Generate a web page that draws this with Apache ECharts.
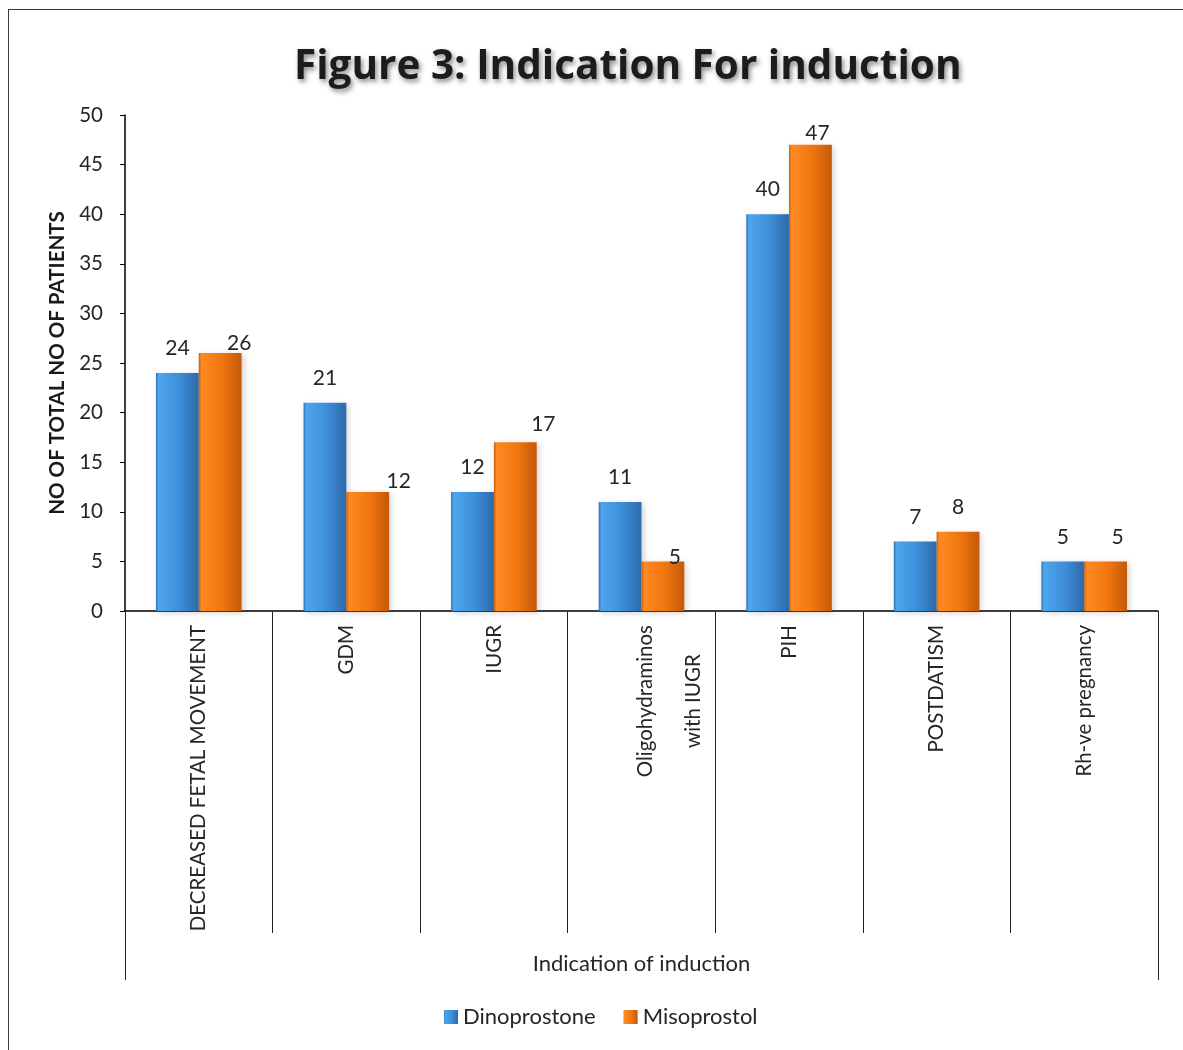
<!DOCTYPE html>
<html>
<head>
<meta charset="utf-8">
<title>Indication For induction</title>
<script src="https://cdn.jsdelivr.net/npm/echarts@6/dist/echarts.min.js"></script>
<style>
  html, body { margin: 0; padding: 0; background: #fff; }
  #frame { position: absolute; left: 8px; top: 9px; width: 1300px; height: 1200px;
           border-left: 1.5px solid #3a3a3a; border-top: 1.5px solid #3a3a3a; }
  #chart { position: absolute; left: 0; top: 0; width: 1183px; height: 1050px; }
</style>
</head>
<body>
<div id="frame"></div>
<div id="chart"></div>
<script>
// Indications for induction of labour, patients per agent
const categories = [
  'DECREASED FETAL MOVEMENT',
  'GDM',
  'IUGR',
  'Oligohydraminos\nwith IUGR',
  'PIH',
  'POSTDATISM',
  'Rh-ve pregnancy'
];
const dinoprostone = [24, 21, 12, 11, 40, 7, 5];
const misoprostol = [26, 12, 17, 5, 47, 8, 5];
const yTicks = { min: 0, max: 50, interval: 5 };

const FONT = 'Lato, "Open Sans", sans-serif';
const TITLE_FONT = '"Open Sans", Lato, sans-serif';
const TEXT = '#262626';

// hand-placed value label nudges for the second series [dx, dy]
const misoLabelShift = [[19, 15], [31, 14], [28, 6], [12, 20], [7, 13], [0, 0], [12, 0]];

function barFill(light, mid, dark) {
  return new echarts.graphic.LinearGradient(0, 0, 1, 0, [
    { offset: 0, color: dark },
    { offset: 0.06, color: light },
    { offset: 0.55, color: mid },
    { offset: 0.94, color: dark },
    { offset: 1, color: dark }
  ]);
}
const blueFill = barFill('#4da6ee', '#3d8ed8', '#2f6fb0');
const orangeFill = barFill('#ff8a24', '#f0760f', '#c95c0a');

const valueLabel = {
  show: true, position: 'top', distance: 14,
  fontFamily: FONT, fontSize: 21, color: TEXT
};

const chart = echarts.init(document.getElementById('chart'), null, { renderer: 'canvas' });
chart.setOption({
  backgroundColor: 'transparent',
  animation: false,
  title: {
    text: 'Figure 3: Indication For induction',
    left: 289, top: 42,
    textStyle: {
      fontFamily: TITLE_FONT, fontWeight: 'bold', fontSize: 40.5, color: '#1c1c1c',
      textShadowColor: 'rgba(0,0,0,0.45)', textShadowBlur: 5,
      textShadowOffsetX: 2, textShadowOffsetY: 3
    }
  },
  legend: {
    left: 439, top: 1001,
    itemWidth: 14, itemHeight: 14, itemGap: 28,
    icon: 'rect',
    textStyle: { fontFamily: FONT, fontSize: 22, color: TEXT },
    data: ['Dinoprostone', 'Misoprostol']
  },
  grid: { left: 125, right: 25, top: 115, bottom: 439, containLabel: false },
  xAxis: [
    {
      type: 'category',
      data: categories.map(c => c.indexOf('\n') >= 0
        ? { value: c, textStyle: { padding: [56, 0, 0, 0] } }
        : c),
      boundaryGap: true,
      name: 'Indication of induction',
      nameLocation: 'middle',
      nameGap: 342,
      nameTextStyle: { fontFamily: FONT, fontSize: 22, color: TEXT },
      axisLine: { show: true, lineStyle: { color: '#000', width: 1.5 } },
      axisTick: { show: true, length: 322, lineStyle: { color: '#222', width: 1 } },
      axisLabel: {
        rotate: 90, margin: 14, interval: 0,
        fontFamily: FONT, fontSize: 20.5, color: TEXT,
        formatter: function (v) {
          if (v.indexOf('\n') < 0) return v;
          return v.split('\n').map(s => '{c|' + s + '}').join('\n');
        },
        rich: {
          c: { align: 'center', lineHeight: 48, fontFamily: FONT, fontSize: 20.5, color: TEXT }
        }
      },
      splitLine: { show: false }
    },
    {
      // outer frame lines of the category table
      type: 'category',
      data: [''],
      position: 'bottom',
      boundaryGap: true,
      axisLine: { show: false },
      axisTick: { show: true, length: 369, lineStyle: { color: '#222', width: 1 } },
      axisLabel: { show: false },
      splitLine: { show: false }
    }
  ],
  yAxis: {
    type: 'value',
    min: yTicks.min, max: yTicks.max, interval: yTicks.interval,
    name: 'NO OF TOTAL NO OF PATIENTS',
    nameLocation: 'middle',
    nameGap: 52,
    nameRotate: 90,
    nameTextStyle: { fontFamily: FONT, fontWeight: 'bold', fontSize: 20.5, color: '#1a1a1a' },
    axisLine: { show: true, lineStyle: { color: '#000', width: 1.5 } },
    axisTick: { show: true, inside: false, length: 5, lineStyle: { color: '#000' } },
    axisLabel: { margin: 22, fontFamily: FONT, fontSize: 20.5, color: TEXT },
    splitLine: { show: false }
  },
  series: [
    {
      name: 'Dinoprostone',
      type: 'bar',
      xAxisIndex: 0,
      barWidth: '29%',
      barGap: '0%',
      itemStyle: {
        color: blueFill,
        shadowColor: 'rgba(0,0,0,0.18)', shadowBlur: 6, shadowOffsetX: 2, shadowOffsetY: 2
      },
      label: valueLabel,
      data: dinoprostone
    },
    {
      name: 'Misoprostol',
      type: 'bar',
      xAxisIndex: 0,
      barWidth: '29%',
      barGap: '0%',
      itemStyle: {
        color: orangeFill,
        shadowColor: 'rgba(0,0,0,0.18)', shadowBlur: 6, shadowOffsetX: 2, shadowOffsetY: 2
      },
      label: valueLabel,
      data: misoprostol.map((v, i) => ({
        value: v,
        label: { offset: misoLabelShift[i] }
      }))
    }
  ]
});
</script>
</body>
</html>
